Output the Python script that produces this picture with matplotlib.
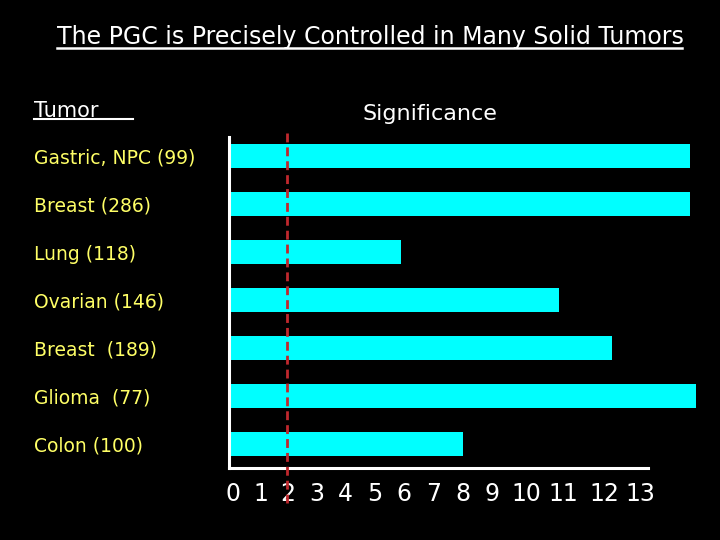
import matplotlib
matplotlib.use('Agg')
import matplotlib.pyplot as plt
from matplotlib.lines import Line2D

# data
tumors = ['Gastric, NPC (99)', 'Breast (286)', 'Lung (118)', 'Ovarian (146)',
          'Breast  (189)', 'Glioma  (77)', 'Colon (100)']
significance = [15.8, 15.8, 5.9, 11.3, 13.1, 16.0, 8.0]
cutoff = 2
tick_labels = ['0', '1', '2', '3', '4', '5', '6', '7', '8', '9', '10', '11', '12', '13']
tick_pos = [0.15, 1.1, 2, 3, 4, 5, 6, 7, 8, 9, 10.2, 11.45, 12.85, 14.1]

W, H = 720, 540
PX = 72 / 100  # points per pixel
plt.rcParams['font.family'] = ['DejaVu Sans']

fig = plt.figure(figsize=(7.2, 5.4), dpi=100, facecolor='black')
ax = fig.add_axes([229 / W, 1 - 468 / H, 419 / W, 331 / H], facecolor='black')

y = list(range(len(tumors)))
ax.barh(y, significance, height=0.5, color='#00FFFF', clip_on=False, zorder=2)
ax.axvline(cutoff, ymin=-0.106, ymax=1.015, color='#C0282D', lw=2.0,
           dashes=(3.2, 1.8), clip_on=False, zorder=3)

ax.set_xlim(0, 14.35)
ax.set_ylim(6.5, -0.4)
ax.set_xticks(tick_pos)
ax.set_xticklabels(tick_labels, color='white', fontsize=17)
ax.set_yticks(y)
ax.set_yticklabels(tumors, color='#FFFF66', fontsize=13.5, ha='left')
ax.tick_params(axis='x', length=0, pad=10)
ax.tick_params(axis='y', length=0, pad=(229 - 34) * PX)

for s in ['top', 'right']:
    ax.spines[s].set_visible(False)
for s in ['left', 'bottom']:
    ax.spines[s].set_color('white')
    ax.spines[s].set_linewidth(2.2)

fig.text(370 / W, 1 - 44 / H, 'The PGC is Precisely Controlled in Many Solid Tumors',
         color='white', fontsize=17, ha='center', va='baseline')
fig.add_artist(Line2D([57 / W, 682 / W], [1 - 48 / H] * 2, color='white', lw=1.8))
fig.text(34 / W, 1 - 117 / H, 'Tumor', color='white', fontsize=15, va='baseline')
fig.add_artist(Line2D([34 / W, 133 / W], [1 - 119 / H] * 2, color='white', lw=1.5))
fig.text(430 / W, 1 - 120 / H, 'Significance', color='white', fontsize=16,
         ha='center', va='baseline')

fig.savefig('out.png', dpi=100, facecolor='black')
